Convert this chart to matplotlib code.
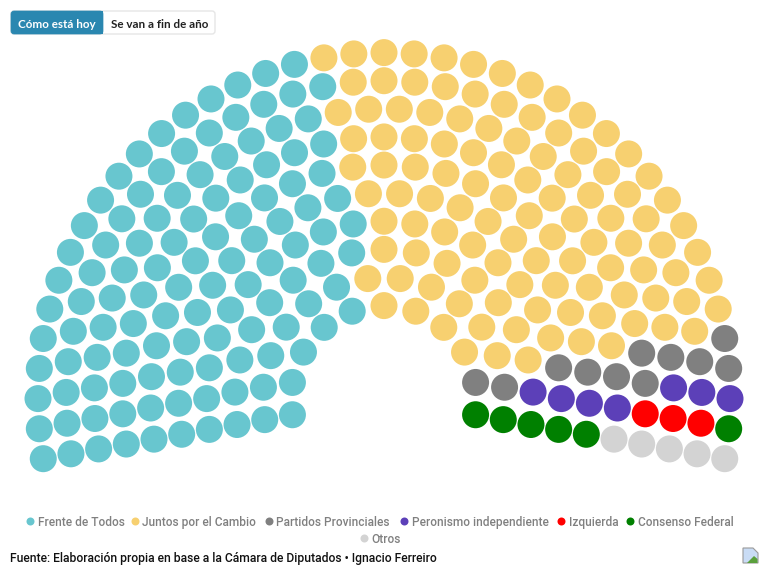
"""
Composition of the Chamber of Deputies as a parliament chart.
"""

import numpy as np
import matplotlib
matplotlib.use('Agg')
import matplotlib.pyplot as plt
from matplotlib.patches import FancyBboxPatch, Polygon, Rectangle

parties = ['Frente de Todos', 'Juntos por el Cambio', 'Partidos Provinciales',
           'Peronismo independiente', 'Izquierda', 'Consenso Federal', 'Otros']
seats = [116, 109, 11, 7, 3, 6, 5]
colors = ['#68c6cf', '#f7d070', '#808080', '#5c40b8', '#ff0000', '#008000', '#d3d3d3']
row_seats = [11, 14, 17, 21, 24, 27, 31, 34, 37, 41]

# Layout of the arc, in pixels of the 768x576 canvas
CENTER = (384, 398.6)
INNER_R, OUTER_R = 93, 346
START_ANGLE, END_ANGLE = 190, -10

legend_x = [30, 135, 269, 404, 561, 630, 364]
legend_y = [521, 521, 521, 521, 521, 521, 538]


def parliament_slots(rows):
    """Return seat positions sorted from the left end of the arc to the right."""
    radii = np.linspace(INNER_R, OUTER_R, len(rows))
    slots = []
    for r, n in zip(radii, rows):
        for angle in np.linspace(START_ANGLE, END_ANGLE, n):
            slots.append((round(angle, 6), r))
    slots.sort(key=lambda s: -s[0])
    slots = np.array(slots)
    theta = np.deg2rad(slots[:, 0])
    x = CENTER[0] + slots[:, 1] * np.cos(theta)
    y = CENTER[1] - slots[:, 1] * np.sin(theta)
    return x, y


fig = plt.figure(figsize=(7.68, 5.76), dpi=100)
ax = fig.add_axes([0, 0, 1, 1])
ax.set_xlim(0, 768)
ax.set_ylim(576, 0)
ax.axis('off')

x, y = parliament_slots(row_seats)
seat_colors = np.repeat(colors, seats)
ax.scatter(x, y, s=(27 * 0.72) ** 2, c=seat_colors, linewidths=0, zorder=2)

# Legend
for name, col, lx, ly in zip(parties, colors, legend_x, legend_y):
    ax.scatter([lx], [ly], s=(8 * 0.72) ** 2, c=col, linewidths=0)
    ax.text(lx + 7.5, ly, name, family='Roboto', weight='medium', fontsize=8.55,
            color='#808080', va='center_baseline', ha='left')

ax.text(10, 557, 'Fuente: Elaboración propia en base a la Cámara de Diputados • Ignacio Ferreiro',
        family='Roboto', weight='medium', fontsize=8.7, color='#111111',
        va='center_baseline', ha='left')

# Toggle buttons
ax.add_patch(FancyBboxPatch((11, 11), 204, 23, boxstyle='round,pad=0,rounding_size=3',
                            fc='white', ec='#e6e6e6', lw=1))
ax.add_patch(FancyBboxPatch((11, 11), 92, 23, boxstyle='round,pad=0,rounding_size=3',
                            fc='#2a87b0', ec='#2a87b0', lw=0.5))
ax.add_patch(Rectangle((97, 11), 6, 23, fc='#2a87b0', ec='none'))
ax.text(57, 23, 'Cómo está hoy', family='Lato', weight='bold', fontsize=8.4, color='white',
        ha='center', va='center_baseline')
ax.text(160, 23, 'Se van a fin de año', family='Lato', weight='bold', fontsize=8.4,
        color='#222222', ha='center', va='center_baseline')

# Broken image placeholder
ax.add_patch(Polygon([[743, 548], [753, 548], [758, 553], [758, 563], [743, 563]],
                     closed=True, fc='#c9dcf5', ec='#9a9a9a', lw=0.8))
ax.add_patch(Polygon([[747, 563], [754, 556], [757.5, 559], [757.5, 563]], closed=True,
                     fc='#5aa03c', ec='none'))

plt.savefig('out.png', dpi=100)
plt.close()
